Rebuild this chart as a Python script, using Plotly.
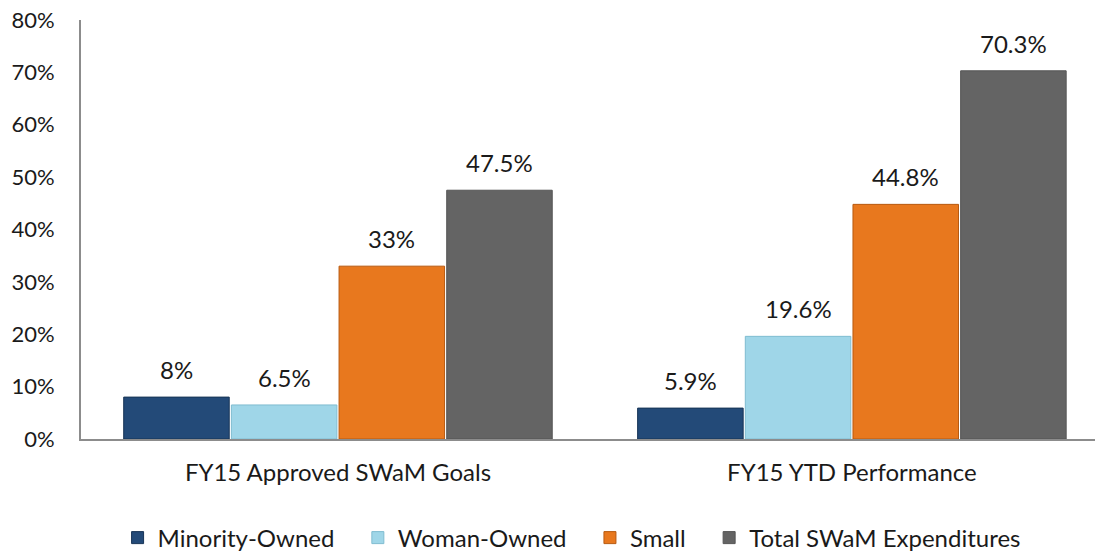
import plotly.graph_objects as go

categories = ["FY15 Approved SWaM Goals", "FY15 YTD Performance"]
series_names = ["Minority-Owned", "Woman-Owned", "Small", "Total SWaM Expenditures"]
minority = [8.0, 5.9]
woman = [6.5, 19.6]
small = [33.0, 44.8]
total = [47.5, 70.3]
labels = [["8%", "5.9%"], ["6.5%", "19.6%"], ["33%", "44.8%"], ["47.5%", "70.3%"]]
y_ticks = [0, 10, 20, 30, 40, 50, 60, 70, 80]

colors = ["#234a78", "#9fd6e8", "#e8781e", "#646464"]
line_colors = ["#173456", "#7fbcd0", "#b85a10", "#555555"]
values = [minority, woman, small, total]

FONT = "Lato"
PAD = "\u00a0" * 3  # extra spacing between legend entries
fig = go.Figure()
for k, (name, vals, c, lc) in enumerate(zip(series_names, values, colors, line_colors)):
    fig.add_trace(go.Bar(
        name=name + (PAD if k < len(series_names) - 1 else ""), x=categories, y=vals,
        marker=dict(color=c, line=dict(color=lc, width=1)),
        hoverinfo="skip",
    ))

# value labels above bars
n = len(series_names)
bargap = 0.162
groupgap = 0.02
bw = (1 - bargap) / n
for i, (vals, labs) in enumerate(zip(values, labels)):
    for j, (v, t) in enumerate(zip(vals, labs)):
        fig.add_annotation(
            x=j + (i - (n - 1) / 2) * bw, y=v, xref="x", yref="y",
            text=t, showarrow=False, yanchor="bottom", yshift=11,
            font=dict(family=FONT, size=24, color="#1a1a1a"),
        )

fig.update_layout(
    width=1095, height=553,
    barmode="group", bargap=bargap, bargroupgap=groupgap,
    plot_bgcolor="white", paper_bgcolor="white",
    margin=dict(l=81, r=0, t=20, b=114, autoexpand=False),
    font=dict(family=FONT, size=22, color="#1a1a1a"),
    showlegend=True,
    legend=dict(orientation="h", xref="container", yref="container",
                x=0.522, xanchor="center", y=0.0271, yanchor="middle",
                font=dict(family=FONT, size=24), itemwidth=30, traceorder="normal"),
    xaxis=dict(
        range=[-0.5, 1.473], showline=True, linecolor="#8c8c8c", linewidth=2,
        ticks="", showgrid=False, tickfont=dict(family=FONT, size=24),
        ticklabelstandoff=11, automargin=False,
    ),
    yaxis=dict(
        range=[0, 80], tickvals=y_ticks, ticktext=[f"{v}%" for v in y_ticks],
        showline=True, linecolor="#8c8c8c", linewidth=2, showgrid=False,
        zeroline=False, ticks="", tickfont=dict(family=FONT, size=22),
        ticklabelstandoff=20, automargin=False, ticklabeloverflow="allow",
    ),
)

fig.write_html("out.html", config={"displayModeBar": False},
               post_script="document.body.style.margin='0';")
